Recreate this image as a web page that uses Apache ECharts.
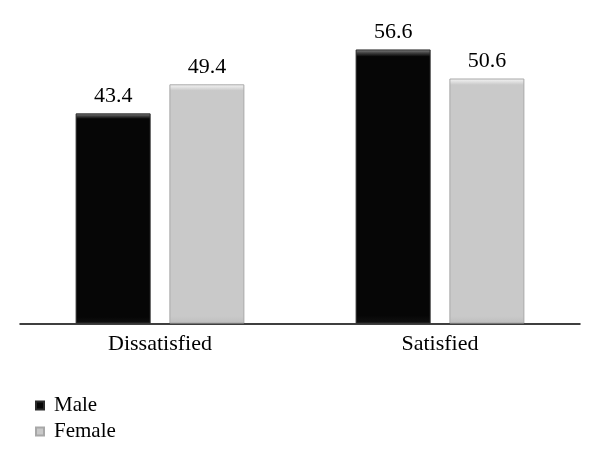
<!DOCTYPE html>
<html>
<head>
<meta charset="utf-8">
<script src="https://cdn.jsdelivr.net/npm/echarts@6/dist/echarts.min.js"></script>
<style>html,body{margin:0;padding:0;background:#fff}#c{width:600px;height:467px}</style>
</head>
<body>
<div id="c"></div>
<script>
var categories = ['Dissatisfied', 'Satisfied'];
var seriesNames = ['Male', 'Female'];
var maleValues = [43.4, 56.6];
var femaleValues = [49.4, 50.6];

var FONT = '"Liberation Serif", "DejaVu Serif", serif';

function grad(top, bevel, fill, bottom) {
  return new echarts.graphic.LinearGradient(0, 0, 0, 1, [
    {offset: 0, color: top},
    {offset: 0.012, color: bevel},
    {offset: 0.026, color: fill},
    {offset: 0.97, color: fill},
    {offset: 1, color: bottom}
  ]);
}

var chart = echarts.init(document.getElementById('c'), null, {renderer: 'canvas'});
chart.setOption({
  animation: false,
  backgroundColor: '#fff',
  grid: {left: 20, right: 20, top: 33, bottom: 143.5, containLabel: false},
  legend: {
    orient: 'vertical',
    left: 35,
    top: 395,
    padding: 0,
    itemWidth: 8,
    itemHeight: 8,
    itemGap: 5,
    icon: 'rect',
    data: seriesNames,
    textStyle: {fontFamily: FONT, fontSize: 21, color: '#000', lineHeight: 20, padding: [0, 0, 0, 5]}
  },
  xAxis: {
    type: 'category',
    data: categories,
    axisLine: {show: true, lineStyle: {color: '#000', width: 1.5}},
    axisTick: {show: false},
    axisLabel: {fontFamily: FONT, fontSize: 22, color: '#000', margin: 10}
  },
  yAxis: {type: 'value', min: 0, max: 60, show: false, splitLine: {show: false}},
  series: [
    {
      name: seriesNames[0],
      type: 'bar',
      data: maleValues,
      barWidth: 75,
      barGap: '25%',
      itemStyle: {
        color: grad('#8a8a8a', '#444', '#060606', '#111'),
        borderColor: '#2a2a2a',
        borderWidth: 1
      },
      label: {show: true, position: 'top', distance: 6, fontFamily: FONT, fontSize: 22, color: '#000'}
    },
    {
      name: seriesNames[1],
      type: 'bar',
      data: femaleValues,
      barWidth: 75,
      barGap: '25%',
      itemStyle: {
        color: grad('#f6f6f6', '#e2e2e2', '#c9c9c9', '#bdbdbd'),
        borderColor: '#a8a8a8',
        borderWidth: 1
      },
      label: {show: true, position: 'top', distance: 6, fontFamily: FONT, fontSize: 22, color: '#000'}
    }
  ]
});
</script>
</body>
</html>
